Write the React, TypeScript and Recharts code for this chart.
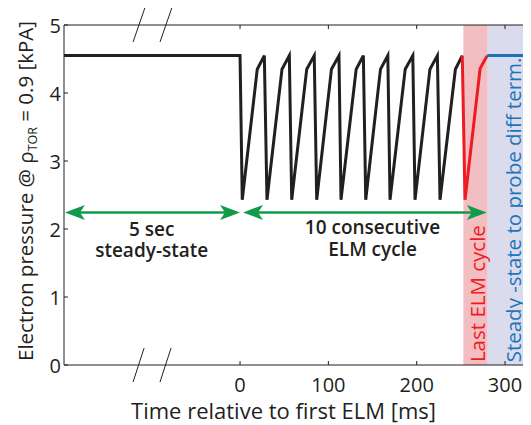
import React from 'react';
import {
  LineChart,
  Line,
  XAxis,
  YAxis,
  ReferenceArea,
  ReferenceLine,
  ReferenceDot,
} from 'recharts';

// ---- data ----
const xTicks = [0, 100, 200, 300];
const yTicks = [0, 1, 2, 3, 4, 5];
const xDomain: [number, number] = [-199.3, 329.4];

// black: steady state then 9 ELM cycles
const blackTimes = [
  -199.3, 0, 2.5, 19.5, 27.5, 30.5, 47.5, 55.8, 58.5, 75.5, 84.0, 86.8, 103.5,
  112.0, 114.3, 131.5, 139.6, 142.3, 159.0, 167.3, 169.8, 187.0, 195.6, 198.1,
  215.0, 223.4, 226.4, 243.8, 251.6,
];
const blackPressures = [
  4.55, 4.55, 2.43, 4.35, 4.55, 2.43, 4.35, 4.55, 2.43, 4.35, 4.55, 2.43, 4.35,
  4.55, 2.43, 4.35, 4.55, 2.43, 4.35, 4.55, 2.43, 4.35, 4.55, 2.43, 4.35, 4.55,
  2.43, 4.35, 4.55,
];
// red: last ELM cycle
const redTimes = [251.6, 254.7, 271.8, 279.8];
const redPressures = [4.55, 2.43, 4.36, 4.55];
// blue: final steady state
const blueTimes = [279.8, 329.4];
const bluePressures = [4.55, 4.55];

// shaded bands
const lastCycleBand = [252.8, 280.4];
const steadyBand = [280.4, 329.4];

// arrows (time range, pressure level)
const arrowLevel = 2.243;
const arrow1 = [-198.2, 0];
const arrow2 = [3.4, 279.3];

// break marks on the time axis
const breakStarts = [-121.1, -90.6];
const breakWidth = 13.5;

const toSeries = (ts: number[], ps: number[]) => ts.map((t, i) => ({ t, p: ps[i] }));
const blackData = toSeries(blackTimes, blackPressures);
const redData = toSeries(redTimes, redPressures);
const blueData = toSeries(blueTimes, bluePressures);

const FONT = "'Open Sans', 'Noto Sans', sans-serif";
const INK = '#231f20';
const GREEN = '#0f9b4a';
const RED = '#ed1c24';
const BLUE = '#1c75bc';

const XTick = (props: any) => {
  const { x, y, payload } = props;
  return (
    <g>
      <line x1={x} y1={y} x2={x} y2={y - 4} stroke={INK} strokeWidth={1} />
      <text x={x} y={y + 27} textAnchor="middle" fontSize={20} fontFamily={FONT} fill={INK}>
        {payload.value}
      </text>
    </g>
  );
};

const YTick = (props: any) => {
  const { x, y, payload } = props;
  return (
    <g>
      <line x1={x} y1={y} x2={x + 4} y2={y} stroke={INK} strokeWidth={1} />
      <text x={x - 3} y={y + 8} textAnchor="end" fontSize={20} fontFamily={FONT} fill={INK}>
        {payload.value}
      </text>
    </g>
  );
};

const arrowHead = (dir: 1 | -1) => (props: any) => {
  const { cx, cy } = props;
  // dir = -1 : points left, dir = 1 : points right
  const L = 20;
  const W = 7.5;
  const N = 15;
  const pts = [
    [cx, cy],
    [cx - dir * L, cy - W],
    [cx - dir * N, cy],
    [cx - dir * L, cy + W],
  ]
    .map((p) => p.join(','))
    .join(' ');
  return <polygon points={pts} fill={GREEN} />;
};

const textBlock = (lines: string[], opts: { fill: string; size: number; weight?: number; lh: number }) =>
  (props: any) => {
    const { cx, cy } = props;
    return (
      <g>
        {lines.map((l, i) => (
          <text
            key={i}
            x={cx}
            y={cy + i * opts.lh}
            textAnchor="middle"
            fontSize={opts.size}
            fontWeight={opts.weight ?? 400}
            fontFamily={FONT}
            fill={opts.fill}
          >
            {l}
          </text>
        ))}
      </g>
    );
  };

const verticalText = (label: string, fill: string, size: number) => (props: any) => {
  const { cx, cy } = props;
  return (
    <text
      x={cx}
      y={cy}
      transform={`rotate(-90, ${cx}, ${cy})`}
      textAnchor="middle"
      fontSize={size}
      fontFamily={FONT}
      fill={fill}
    >
      {label}
    </text>
  );
};

const XLabel = (props: any) => {
  const vb = props.viewBox;
  return (
    <text
      x={vb.x + vb.width / 2 - 14}
      y={vb.y + 54}
      textAnchor="middle"
      fontSize={22}
      fontFamily={FONT}
      fill={INK}
    >
      Time relative to first ELM [ms]
    </text>
  );
};

const YLabel = (props: any) => {
  const vb = props.viewBox;
  const x = vb.x + 24.7;
  const y = vb.y + vb.height / 2 - 4;
  return (
    <text
      x={x}
      y={y}
      transform={`rotate(-90, ${x}, ${y})`}
      textAnchor="middle"
      fontSize={20.5}
      fontFamily={FONT}
      fill={INK}
    >
      Electron pressure @ ρ
      <tspan fontSize={12.5} dy={4}>
        TOR
      </tspan>
      <tspan dy={-4}> = 0.9 [kPA]</tspan>
    </text>
  );
};

export default function App() {
  return (
    <div style={{ width: 523, height: 417 }}>
      <LineChart width={523} height={417} margin={{ top: 17, right: 0, bottom: 0, left: 0 }}>
        <XAxis
          type="number"
          dataKey="t"
          domain={xDomain}
          ticks={xTicks}
          allowDataOverflow
          height={60}
          tickSize={0}
          tickMargin={0}
          tickLine={false}
          tick={<XTick />}
          axisLine={{ stroke: INK, strokeWidth: 1 }}
          label={{ content: <XLabel /> } as any}
        />
        <YAxis
          type="number"
          dataKey="p"
          domain={[0, 5]}
          ticks={yTicks}
          allowDataOverflow
          width={56}
          tickSize={0}
          tickMargin={0}
          tickLine={false}
          tick={<YTick />}
          axisLine={{ stroke: INK, strokeWidth: 1 }}
          label={{ content: <YLabel /> } as any}
        />

        <ReferenceArea
          x1={lastCycleBand[0]}
          x2={lastCycleBand[1]}
          y1={0}
          y2={5}
          fill="#f3bec1"
          fillOpacity={1}
          stroke="none"
        />
        <ReferenceArea
          x1={steadyBand[0]}
          x2={steadyBand[1]}
          y1={0}
          y2={5}
          fill="#dadbec"
          fillOpacity={1}
          stroke="none"
        />

        {/* top frame line with inward ticks */}
        <ReferenceLine y={5} stroke={INK} strokeWidth={1} />
        {xTicks.map((t) => (
          <ReferenceLine
            key={'tt' + t}
            segment={[
              { x: t, y: 5 },
              { x: t, y: 4.94 },
            ]}
            stroke={INK}
            strokeWidth={1}
          />
        ))}

        <Line
          data={blackData}
          dataKey="p"
          stroke={INK}
          strokeWidth={3}
          dot={false}
          isAnimationActive={false}
          type="linear"
        />
        <Line
          data={redData}
          dataKey="p"
          stroke={RED}
          strokeWidth={3}
          dot={false}
          isAnimationActive={false}
          type="linear"
        />
        <Line
          data={blueData}
          dataKey="p"
          stroke={BLUE}
          strokeWidth={3}
          dot={false}
          isAnimationActive={false}
          type="linear"
        />

        {/* green arrows */}
        <ReferenceLine
          segment={[
            { x: arrow1[0] + 15, y: arrowLevel },
            { x: arrow1[1] - 15, y: arrowLevel },
          ]}
          stroke={GREEN}
          strokeWidth={2.5}
        />
        <ReferenceLine
          segment={[
            { x: arrow2[0] + 15, y: arrowLevel },
            { x: arrow2[1] - 15, y: arrowLevel },
          ]}
          stroke={GREEN}
          strokeWidth={2.5}
        />
        <ReferenceDot x={arrow1[0]} y={arrowLevel} shape={arrowHead(-1)} ifOverflow="visible" />
        <ReferenceDot x={arrow1[1]} y={arrowLevel} shape={arrowHead(1)} ifOverflow="visible" />
        <ReferenceDot x={arrow2[0]} y={arrowLevel} shape={arrowHead(-1)} ifOverflow="visible" />
        <ReferenceDot x={arrow2[1]} y={arrowLevel} shape={arrowHead(1)} ifOverflow="visible" />

        {/* annotations */}
        <ReferenceDot
          x={-100}
          y={1.9}
          ifOverflow="visible"
          shape={textBlock(['5 sec', 'steady-state'], { fill: INK, size: 19, weight: 600, lh: 21.5 })}
        />
        <ReferenceDot
          x={150}
          y={1.92}
          ifOverflow="visible"
          shape={textBlock(['10 consecutive', 'ELM cycle'], { fill: INK, size: 19, weight: 600, lh: 21.5 })}
        />
        <ReferenceDot
          x={277.5}
          y={1.05}
          ifOverflow="visible"
          shape={verticalText('Last ELM cycle', RED, 20.5)}
        />
        <ReferenceDot
          x={318}
          y={2.28}
          ifOverflow="visible"
          shape={verticalText('Steady -state to probe diff term.', BLUE, 20.5)}
        />

        {/* axis break marks */}
        {breakStarts.map((b) => (
          <ReferenceLine
            key={'bt' + b}
            segment={[
              { x: b, y: 4.75 },
              { x: b + breakWidth, y: 5.257 },
            ]}
            stroke={INK}
            strokeWidth={1}
            ifOverflow="visible"
          />
        ))}
        {breakStarts.map((b) => (
          <ReferenceLine
            key={'bb' + b}
            segment={[
              { x: b, y: -0.25 },
              { x: b + breakWidth - 1, y: 0.25 },
            ]}
            stroke={INK}
            strokeWidth={1}
            ifOverflow="visible"
          />
        ))}
      </LineChart>
    </div>
  );
}
